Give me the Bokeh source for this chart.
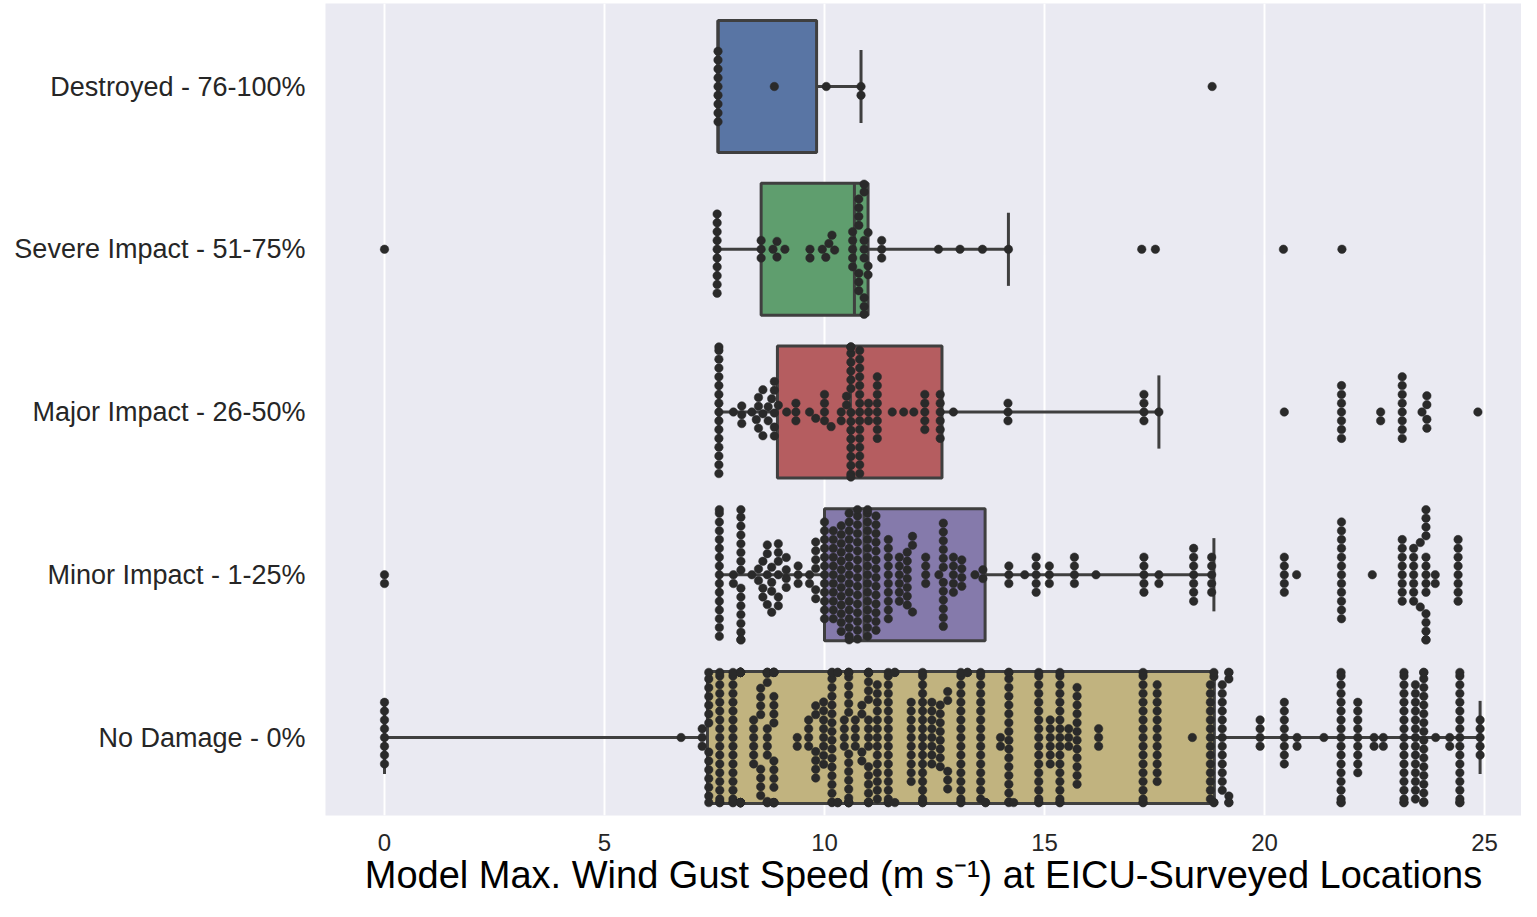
import numpy as np
from bokeh.plotting import figure
from bokeh.models import Range1d, FixedTicker
from bokeh.embed import file_html
from bokeh.resources import INLINE

# ---------------- data ----------------
categories = ["Destroyed - 76-100%", "Severe Impact - 51-75%", "Major Impact - 26-50%",
              "Minor Impact - 1-25%", "No Damage - 0%"]
box_colors = ["#5975A4", "#5F9E6E", "#B55D60", "#857AAB", "#C1B37F"]

# box statistics (m/s)
q1 = [7.58, 8.56, 8.93, 10.00, 7.34]
median = [7.58, 10.68, 10.59, 10.90, 12.23]
q3 = [9.82, 10.99, 12.67, 13.65, 18.86]
whisker_lo = [7.58, 7.56, 7.60, 7.61, 0.00]
whisker_hi = [10.83, 14.18, 17.60, 18.85, 24.90]

# swarm points: distinct values and how many points sit at each
destroyed_vals = [7.58, 8.86, 10.04, 10.83, 18.81]
destroyed_cnts = [9, 1, 1, 2, 1]

severe_vals = [0.0, 7.56, 8.56, 8.83, 8.92, 9.10, 9.67, 9.95, 10.03, 10.10, 10.17, 10.23,
               10.64, 10.78, 10.90, 10.99, 11.30, 12.59, 13.08, 13.59, 14.18, 17.21, 17.52,
               20.43, 21.76]
severe_cnts = [1, 10, 3, 1, 2, 1, 2, 1, 1, 1, 1, 1,
               5, 7, 8, 3, 3, 1, 1, 1, 1, 1, 1,
               1, 1]

major_vals = [7.60, 7.93, 8.12, 8.35, 8.45, 8.50, 8.60, 8.72, 8.80, 8.86, 8.95, 9.14, 9.35,
              9.66, 9.80, 10.00, 10.15, 10.38, 10.50, 10.60, 10.80, 11.00, 11.20, 11.54,
              11.80, 12.03, 12.28, 12.63, 12.93, 14.17, 17.26, 17.60, 20.45, 21.75, 22.64,
              23.13, 23.58, 23.69, 24.85]
major_cnts = [16, 1, 3, 1, 1, 3, 3, 2, 1, 5, 1, 1, 3,
              1, 1, 4, 1, 2, 2, 16, 15, 3, 8, 1,
              1, 1, 5, 6, 1, 3, 4, 1, 1, 7, 2,
              8, 1, 4, 1]

minor_vals = [0.0, 7.61, 7.93, 8.10, 8.35, 8.50, 8.60, 8.70, 8.80, 8.95, 9.13, 9.40, 9.66,
              9.80, 10.00, 10.20, 10.38, 10.56, 10.75, 10.98, 11.17, 11.45, 11.70, 11.88,
              12.00, 12.30, 12.60, 12.70, 12.93, 13.12, 13.42, 13.60, 14.19, 14.55, 14.81,
              15.11, 15.68, 16.17, 17.26, 17.60, 18.39, 18.80, 20.45, 20.73, 21.75, 22.45,
              23.13, 23.39, 23.54, 23.67, 23.88, 24.40]
minor_cnts = [2, 16, 2, 16, 1, 2, 3, 4, 4, 6, 4, 3, 2,
              6, 12, 11, 13, 16, 16, 16, 14, 10, 6, 7,
              3, 4, 1, 12, 5, 4, 1, 2, 3, 1, 5,
              3, 4, 1, 5, 2, 7, 5, 5, 1, 12, 1,
              8, 7, 2, 14, 2, 8]

nodamage_vals = [0.0, 6.74, 7.22, 7.37, 7.62, 7.92, 8.09, 8.39, 8.55, 8.70, 8.85, 9.38, 9.64,
                 9.80, 9.98, 10.17, 10.30, 10.45, 10.55, 10.70, 10.85, 11.00, 11.20, 11.45,
                 11.60, 11.97, 12.23, 12.44, 12.63, 12.80, 13.10, 13.25, 13.55, 13.66, 14.00,
                 14.19, 14.30, 14.87, 15.13, 15.35, 15.55, 15.74, 16.23, 17.24, 17.56, 18.36,
                 18.77, 18.85, 19.04, 19.19, 19.90, 20.45, 20.74, 21.35, 21.74, 22.12, 22.49,
                 22.70, 23.17, 23.43, 23.62, 23.89, 24.21, 24.44, 24.90]
nodamage_cnts = [8, 1, 3, 14, 18, 18, 18, 6, 8, 12, 18, 2, 4,
                 6, 8, 18, 4, 4, 18, 4, 4, 18, 14, 18,
                 3, 10, 18, 8, 8, 5, 18, 2, 16, 2, 2,
                 18, 1, 18, 6, 18, 3, 12, 3, 18, 12, 1,
                 14, 4, 13, 6, 4, 8, 2, 1, 18, 9, 2,
                 2, 18, 14, 18, 1, 2, 18, 5]

swarm_vals = [destroyed_vals, severe_vals, major_vals, minor_vals, nodamage_vals]
swarm_cnts = [destroyed_cnts, severe_cnts, major_cnts, minor_cnts, nodamage_cnts]

x_ticks = [0, 5, 10, 15, 20, 25]

# ---------------- layout ----------------
FIG_W, FIG_H = 1521, 901
BORDER_L, BORDER_T, BORDER_B = 325, 3, 86
FRAME_W = FIG_W - BORDER_L
FRAME_H = FIG_H - BORDER_T - BORDER_B
X_START = -59.0 / 44.0
X_END = X_START + FRAME_W / 44.0
CAT_PX = 162.75
Y_TOP = -(86 - BORDER_T) / CAT_PX
Y_BOTTOM = Y_TOP + FRAME_H / CAT_PX
PX_X = FRAME_W / (X_END - X_START)
PX_Y = FRAME_H / (Y_BOTTOM - Y_TOP)
DOT = 8.8            # swarm spacing in px
HALF = 0.4 * PX_Y    # gutter (half box width) in px
BOX_HALF = 0.405
CAP_HALF = 0.225


def beeswarm(values):
    xs = np.asarray(values, float) * PX_X
    order = np.argsort(xs, kind="stable")
    px, py = [], []
    off = np.zeros(len(xs))
    for i in order:
        x = xs[i]
        neigh = []
        for j in range(len(px) - 1, -1, -1):
            if x - px[j] >= DOT:
                break
            neigh.append((px[j], py[j]))
        cands = [0.0]
        for nx, ny in neigh:
            dy = np.sqrt(max(DOT * DOT - (x - nx) ** 2, 0.0))
            cands += [ny + dy, ny - dy]
        cands.sort(key=abs)
        chosen = cands[-1]
        for c in cands:
            ok = True
            for nx, ny in neigh:
                if (x - nx) ** 2 + (c - ny) ** 2 < DOT * DOT - 1e-6:
                    ok = False
                    break
            if ok:
                chosen = c
                break
        px.append(x)
        py.append(chosen)
        off[i] = chosen
    off = np.clip(off, -HALF, HALF)
    return off / PX_Y


p = figure(width=FIG_W, height=FIG_H, output_backend="svg", toolbar_location=None,
           x_range=Range1d(X_START, X_END), y_range=Range1d(Y_BOTTOM, Y_TOP),
           min_border_left=BORDER_L, min_border_right=0, min_border_top=BORDER_T,
           min_border_bottom=BORDER_B)

p.background_fill_color = "#EAEAF2"
p.border_fill_color = "white"
p.outline_line_color = None

p.xgrid.ticker = FixedTicker(ticks=x_ticks)
p.xgrid.grid_line_color = "white"
p.xgrid.grid_line_width = 2
p.ygrid.grid_line_color = None

p.xaxis.ticker = FixedTicker(ticks=x_ticks)
p.xaxis.axis_line_color = None
p.xaxis.major_tick_line_color = None
p.xaxis.minor_tick_line_color = None
p.xaxis.major_tick_out = 0
p.xaxis.major_tick_in = 0
p.xaxis.major_label_standoff = 18
p.xaxis.major_label_text_font = "Liberation Sans"
p.xaxis.major_label_text_font_size = "24px"
p.xaxis.major_label_text_color = "#262626"
p.xaxis.axis_label = "Model Max. Wind Gust Speed (m s\u207b\u00b9) at EICU-Surveyed Locations"
p.xaxis.axis_label_text_font = "Liberation Sans"
p.xaxis.axis_label_text_font_size = "38px"
p.xaxis.axis_label_text_font_style = "normal"
p.xaxis.axis_label_text_color = "#000000"
p.xaxis.axis_label_standoff = 0

p.yaxis.ticker = FixedTicker(ticks=list(range(len(categories))))
p.yaxis.major_label_overrides = {i: c for i, c in enumerate(categories)}
p.yaxis.axis_line_color = None
p.yaxis.major_tick_line_color = None
p.yaxis.minor_tick_line_color = None
p.yaxis.major_tick_out = 0
p.yaxis.major_tick_in = 0
p.yaxis.major_label_standoff = 20
p.yaxis.major_label_text_font = "Liberation Sans"
p.yaxis.major_label_text_font_size = "27px"
p.yaxis.major_label_text_color = "#262626"

EDGE = "#3F3F3F"
cats_idx = np.arange(len(categories))

# whiskers
p.segment(x0=q3, y0=cats_idx, x1=whisker_hi, y1=cats_idx, line_color=EDGE, line_width=3)
p.segment(x0=q1, y0=cats_idx, x1=whisker_lo, y1=cats_idx, line_color=EDGE, line_width=3)
# caps
p.segment(x0=whisker_hi, y0=cats_idx - CAP_HALF, x1=whisker_hi, y1=cats_idx + CAP_HALF,
          line_color=EDGE, line_width=3)
p.segment(x0=whisker_lo, y0=cats_idx - CAP_HALF, x1=whisker_lo, y1=cats_idx + CAP_HALF,
          line_color=EDGE, line_width=3)
# boxes
p.quad(left=q1, right=q3, top=cats_idx - BOX_HALF, bottom=cats_idx + BOX_HALF,
       fill_color=box_colors, line_color=EDGE, line_width=3)
# medians
p.segment(x0=median, y0=cats_idx - BOX_HALF, x1=median, y1=cats_idx + BOX_HALF,
          line_color=EDGE, line_width=3)

# swarm points
all_x, all_y = [], []
for k, (vals, cnts) in enumerate(zip(swarm_vals, swarm_cnts)):
    v = np.repeat(np.asarray(vals, float), cnts)
    off = beeswarm(v)
    all_x.extend(v.tolist())
    all_y.extend((k + off).tolist())

p.scatter(x=all_x, y=all_y, size=8.5, fill_color="#2A2A2A", line_color="#2A2A2A", line_width=0.5)

open("out.html", "w").write(file_html(p, INLINE))
